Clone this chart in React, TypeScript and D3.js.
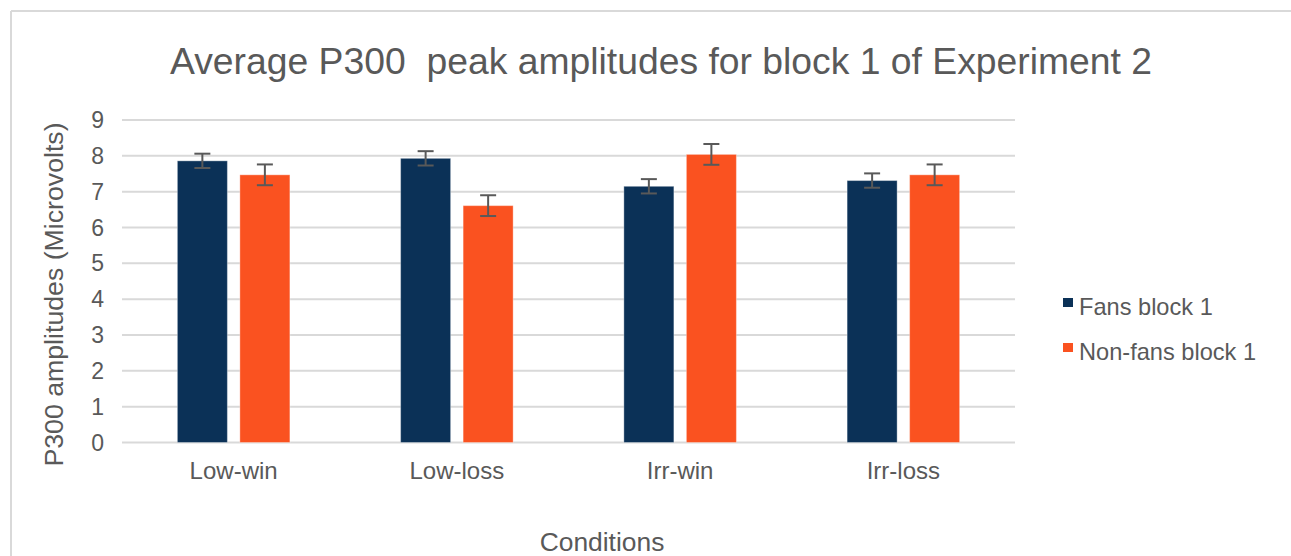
import React from "react";
import * as d3 from "d3";

const categories = ["Low-win", "Low-loss", "Irr-win", "Irr-loss"];
const seriesNames = ["Fans block 1", "Non-fans block 1"];
const fansValues = [7.86, 7.93, 7.15, 7.31];
const nonFansValues = [7.47, 6.61, 8.04, 7.47];
const fansErrors = [0.2, 0.2, 0.2, 0.2];
const nonFansErrors = [0.29, 0.29, 0.29, 0.29];
const yTicks = [0, 1, 2, 3, 4, 5, 6, 7, 8, 9];
const colors = ["#0B3157", "#FA5220"];

const FONT = "'Liberation Sans', Arial, Helvetica, sans-serif";
const TEXT = "#595959";

export default function App() {
  const W = 1291;
  const H = 556;
  const left = 122;
  const right = 1015;
  const y = d3.scaleLinear().domain([0, 9]).range([442.5, 120]);
  const x0 = d3
    .scaleBand<string>()
    .domain(categories)
    .range([left, right])
    .paddingInner(0.496)
    .paddingOuter(0.248);
  const x1 = d3
    .scaleBand<string>()
    .domain(seriesNames)
    .range([0, x0.bandwidth()])
    .paddingInner(0.2);

  const values = [fansValues, nonFansValues];
  const errors = [fansErrors, nonFansErrors];

  return (
    <svg
      width={W}
      height={H}
      style={{ position: "absolute", left: 0, top: 0, background: "#fff" }}
      fontFamily={FONT}
    >
      <rect x={0} y={0} width={W} height={H} fill="#fff" />
      <line x1={11} y1={11} x2={W} y2={11} stroke="#d9d9d9" strokeWidth={2} />
      <line x1={11} y1={11} x2={11} y2={H} stroke="#d9d9d9" strokeWidth={2} />

      <text x={661} y={74} textAnchor="middle" fontSize={37.3} fill={TEXT}>
        Average P300{"\u00a0\u00a0"}peak amplitudes for block 1 of Experiment 2
      </text>

      {yTicks.map((t) => (
        <g key={t}>
          <line x1={left} x2={right} y1={y(t)} y2={y(t)} stroke="#d9d9d9" strokeWidth={2} />
          <text x={104} y={y(t) + 8} textAnchor="end" fontSize={23} fill={TEXT}>
            {t}
          </text>
        </g>
      ))}

      {categories.map((c, i) => (
        <g key={c}>
          {seriesNames.map((s, j) => {
            const bx = (x0(c) as number) + (x1(s) as number);
            const bw = x1.bandwidth();
            const v = values[j][i];
            const e = errors[j][i];
            const cx = bx + bw / 2;
            return (
              <g key={s}>
                <rect
                  x={bx}
                  y={y(v)}
                  width={bw}
                  height={y(0) - y(v)}
                  fill={colors[j]}
                  stroke="#ffffff"
                  strokeOpacity={0.35}
                  strokeWidth={1}
                />
                <line x1={cx} x2={cx} y1={y(v + e)} y2={y(v - e)} stroke="#595959" strokeWidth={2} />
                <line x1={cx - 8} x2={cx + 8} y1={y(v + e)} y2={y(v + e)} stroke="#595959" strokeWidth={2} />
                <line x1={cx - 8} x2={cx + 8} y1={y(v - e)} y2={y(v - e)} stroke="#595959" strokeWidth={2} />
              </g>
            );
          })}
          <text
            x={(x0(c) as number) + x0.bandwidth() / 2}
            y={479}
            textAnchor="middle"
            fontSize={24}
            fill={TEXT}
          >
            {c}
          </text>
        </g>
      ))}

      <text
        transform={`translate(63, 294.5) rotate(-90)`}
        textAnchor="middle"
        fontSize={26.7}
        fill={TEXT}
      >
        P300 amplitudes (Microvolts)
      </text>

      <text x={602} y={551} textAnchor="middle" fontSize={26.4} fill={TEXT}>
        Conditions
      </text>

      {seriesNames.map((s, j) => (
        <g key={s}>
          <rect x={1063} y={298 + j * 45} width={10} height={9} fill={colors[j]} />
          <text x={1079} y={315 + j * 45} fontSize={23.6} fill={TEXT}>
            {s}
          </text>
        </g>
      ))}
    </svg>
  );
}
